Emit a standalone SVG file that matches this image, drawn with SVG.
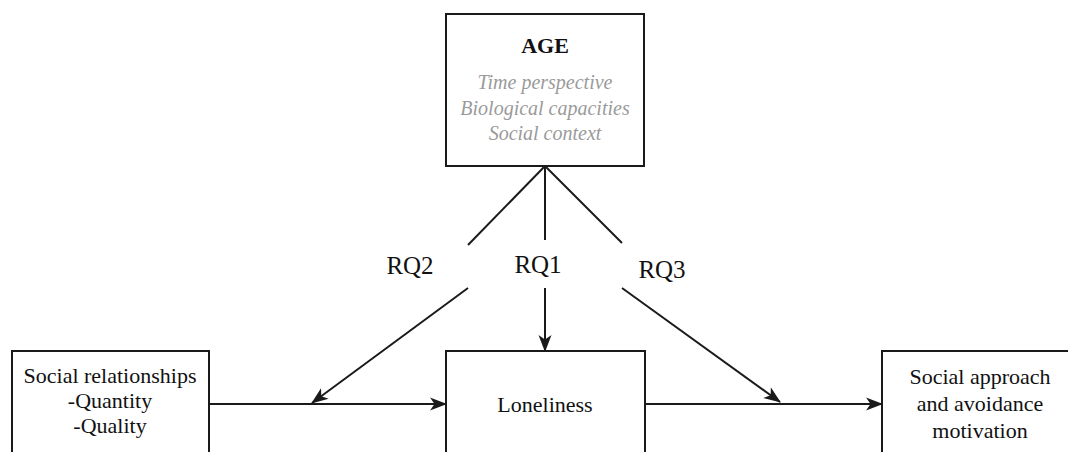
<svg xmlns="http://www.w3.org/2000/svg" width="1068" height="452" viewBox="0 0 1068 452">
  <style>
    .box { fill: #ffffff; stroke: #1a1a1a; stroke-width: 2; }
    text { font-family: 'Liberation Serif', 'DejaVu Serif', serif; }
    .lbl { fill: #111111; text-anchor: middle; }
    .sub { font-style: italic; fill: #9a9a9a; text-anchor: middle; font-size: 20px; }
    .edge { fill: none; stroke: #1a1a1a; stroke-width: 2; }
    .arrow { fill: none; stroke: #1a1a1a; stroke-width: 2; marker-end: url(#head); }
  </style>
  <defs>
    <marker id="head" markerUnits="userSpaceOnUse" markerWidth="18" markerHeight="14" refX="16" refY="7" orient="auto">
      <path d="M0,0.5 L17,7 L0,13.5 L4.5,7 Z" fill="#1a1a1a"/>
    </marker>
  </defs>

  <rect width="1068" height="452" fill="#ffffff"/>

  <!-- connectors -->
  <g id="connectors">
    <!-- age fan-out -->
    <line class="edge" x1="545" y1="166" x2="468" y2="245"/>
    <line class="edge" x1="545" y1="166" x2="545" y2="240"/>
    <line class="edge" x1="545" y1="166" x2="622" y2="243"/>
    <!-- moderation / direct effect arrows -->
    <line class="arrow" x1="468" y1="288" x2="312" y2="403"/>
    <line class="arrow" x1="545" y1="288" x2="545" y2="351"/>
    <line class="arrow" x1="622" y1="288" x2="780" y2="402"/>
    <!-- main path -->
    <line class="arrow" x1="209" y1="404" x2="446" y2="404"/>
    <line class="arrow" x1="645" y1="404" x2="882" y2="404"/>
  </g>

  <!-- research question labels -->
  <g id="rq-labels">
    <text class="lbl" x="410" y="274" font-size="25">RQ2</text>
    <text class="lbl" x="538" y="273" font-size="25">RQ1</text>
    <text class="lbl" x="662" y="278" font-size="25">RQ3</text>
  </g>

  <g id="age">
    <rect class="box" x="446" y="14" width="198" height="152"/>
    <text class="lbl" x="545" y="53" font-size="22" font-weight="bold">AGE</text>
    <text class="sub" x="545" y="89">Time perspective</text>
    <text class="sub" x="545" y="115">Biological capacities</text>
    <text class="sub" x="545" y="140">Social context</text>
  </g>

  <g id="social-relationships">
    <rect class="box" x="12" y="351" width="197" height="130"/>
    <text class="lbl" x="110" y="383" font-size="22">Social relationships</text>
    <text class="lbl" x="110" y="408" font-size="22">-Quantity</text>
    <text class="lbl" x="110" y="433" font-size="22">-Quality</text>
  </g>

  <g id="loneliness">
    <rect class="box" x="446" y="351" width="199" height="130"/>
    <text class="lbl" x="545" y="412" font-size="22">Loneliness</text>
  </g>

  <g id="social-motivation">
    <rect class="box" x="882" y="351" width="220" height="130"/>
    <text class="lbl" x="980" y="384" font-size="22">Social approach</text>
    <text class="lbl" x="980" y="411" font-size="22">and avoidance</text>
    <text class="lbl" x="980" y="438" font-size="22">motivation</text>
  </g>
</svg>
